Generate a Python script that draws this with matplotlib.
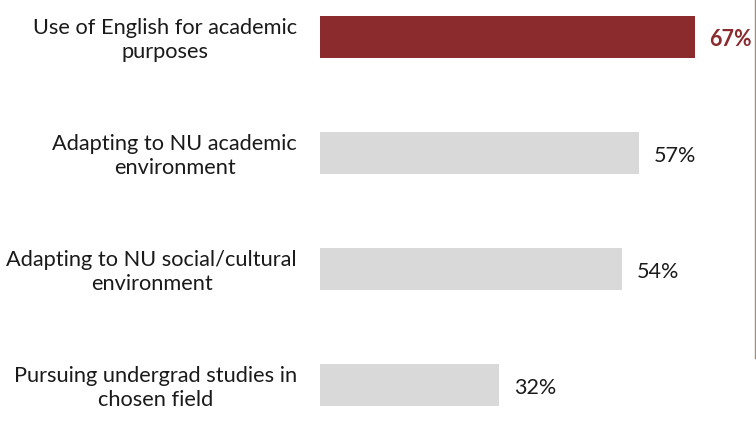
import matplotlib
matplotlib.use("Agg")
import matplotlib.pyplot as plt
from matplotlib.lines import Line2D

categories = [
    "Use of English for academic\npurposes",
    "Adapting to NU academic\nenvironment",
    "Adapting to NU social/cultural\nenvironment",
    "Pursuing undergrad studies in\nchosen field",
]
values = [67, 57, 54, 32]
highlight = [True, False, False, False]

RED = "#8B2B2E"
GRAY = "#D9D9D9"

plt.rcParams["font.family"] = ["Lato", "DejaVu Sans"]

W, H = 756, 423
fig = plt.figure(figsize=(W / 100, H / 100), dpi=100)
ax = fig.add_axes([320 / W, 0, 436 / W, 1])

ypos = list(range(len(values)))
colors = [RED if h else GRAY for h in highlight]
ax.barh(ypos, values, height=0.355, color=colors, edgecolor="none")

ax.set_xlim(0, 78)
ax.set_ylim(3 + 38 / 116, -37 / 116)

for y, v, h in zip(ypos, values, highlight):
    ax.annotate(f"{v}%", xy=(v, y), xytext=(15, -3), textcoords="offset pixels",
                ha="left", va="center", fontsize=15.5,
                color=RED if h else "#1a1a1a", fontweight="bold" if h else "normal")

for y, lab in zip(ypos, categories):
    ax.annotate(lab, xy=(0, y), xytext=(-23, -3), textcoords="offset pixels",
                ha="right", va="center", multialignment="center",
                fontsize=15.7, color="#1a1a1a", linespacing=1.25,
                annotation_clip=False)

ax.axis("off")

fig.add_artist(Line2D([755 / W, 755 / W], [1, 1 - 358 / H], transform=fig.transFigure,
                      color="#9C8C84", linewidth=1.0))

fig.savefig("out.png", dpi=100, facecolor="white")
